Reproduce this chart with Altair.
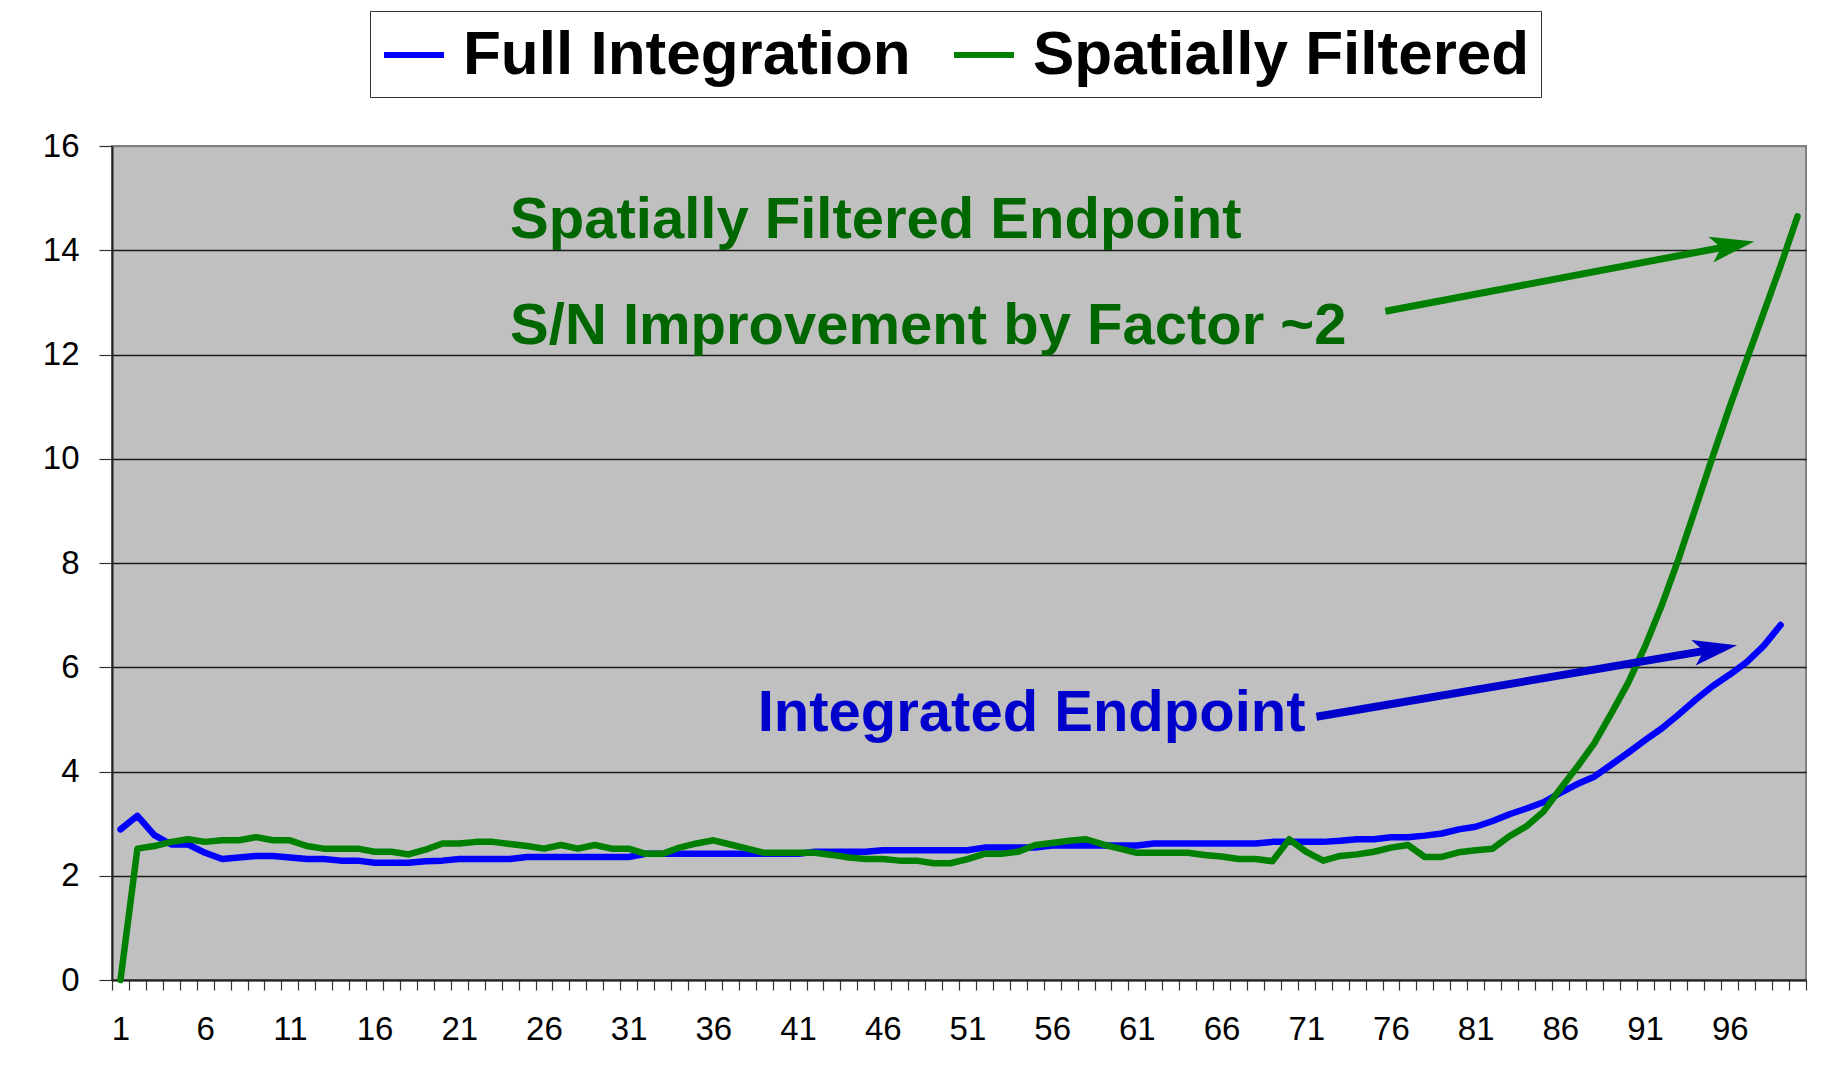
import math
import altair as alt
import pandas as pd

# ---------------- data ----------------
categories = list(range(1, 101))
x_tick_labels = [1, 6, 11, 16, 21, 26, 31, 36, 41, 46, 51, 56, 61, 66, 71, 76, 81, 86, 91, 96]
y_tick_values = [0, 2, 4, 6, 8, 10, 12, 14, 16]

series_names = ["Full Integration", "Spatially Filtered"]
series_colors = ["#0000FF", "#008000"]

full_integration = [
    2.89, 3.15, 2.78, 2.60, 2.60, 2.44, 2.32, 2.35, 2.38, 2.38,
    2.35, 2.32, 2.32, 2.29, 2.29, 2.25, 2.25, 2.25, 2.28, 2.29,
    2.32, 2.32, 2.32, 2.32, 2.36, 2.36, 2.36, 2.36, 2.36, 2.36,
    2.36, 2.42, 2.42, 2.42, 2.42, 2.42, 2.42, 2.42, 2.42, 2.42,
    2.42, 2.46, 2.46, 2.46, 2.46, 2.49, 2.49, 2.49, 2.49, 2.49,
    2.49, 2.54, 2.54, 2.54, 2.54, 2.58, 2.58, 2.58, 2.58, 2.58,
    2.58, 2.62, 2.62, 2.62, 2.62, 2.62, 2.62, 2.62, 2.65, 2.65,
    2.65, 2.65, 2.67, 2.70, 2.70, 2.74, 2.74, 2.77, 2.81, 2.89,
    2.94, 3.05, 3.18, 3.29, 3.41, 3.59, 3.76, 3.90, 4.13, 4.36,
    4.60, 4.83, 5.10, 5.38, 5.64, 5.86, 6.10, 6.41, 6.81,
]

spatially_filtered = [
    0.00, 2.52, 2.57, 2.65, 2.70, 2.65, 2.68, 2.68, 2.74, 2.68,
    2.68, 2.57, 2.52, 2.52, 2.52, 2.46, 2.46, 2.41, 2.50, 2.62,
    2.62, 2.65, 2.65, 2.61, 2.57, 2.52, 2.59, 2.52, 2.59, 2.52,
    2.52, 2.42, 2.42, 2.54, 2.62, 2.68, 2.60, 2.52, 2.44, 2.44,
    2.44, 2.44, 2.40, 2.35, 2.32, 2.32, 2.29, 2.29, 2.24, 2.24,
    2.32, 2.42, 2.42, 2.46, 2.59, 2.63, 2.67, 2.70, 2.60, 2.52,
    2.44, 2.44, 2.44, 2.44, 2.40, 2.37, 2.32, 2.32, 2.28, 2.70,
    2.46, 2.29, 2.38, 2.41, 2.46, 2.54, 2.59, 2.36, 2.36, 2.45,
    2.49, 2.52, 2.76, 2.95, 3.23, 3.67, 4.09, 4.54, 5.11, 5.70,
    6.40, 7.20, 8.10, 9.07, 10.05, 11.00, 11.90, 12.80, 13.70, 14.65,
]

# annotations (data coordinates)
green_texts = ["Spatially Filtered Endpoint", "S/N Improvement by Factor ~2"]
green_text_x = [24.0, 24.0]
green_text_y = [14.23, 12.21]
blue_texts = ["Integrated Endpoint"]
blue_text_x = [38.62]
blue_text_y = [4.77]

green_arrow = {"x": 75.67, "y": 12.83, "tip_x": 97.45, "tip_y": 14.17}
blue_arrow = {"x": 71.6, "y": 5.05, "tip_x": 96.43, "tip_y": 6.42}

# ---------------- layout ----------------
W, H = 1694, 834
X_DOMAIN = [0.5, 100.5]
Y_DOMAIN = [0, 16]
px_x = W / (X_DOMAIN[1] - X_DOMAIN[0])
px_y = H / (Y_DOMAIN[1] - Y_DOMAIN[0])

rows = []
for name, vals in zip(series_names, [full_integration, spatially_filtered]):
    for c, v in zip(categories, vals):
        rows.append({"idx": c, "value": v, "series": name})
df = pd.DataFrame(rows)

boundaries = [c - 0.5 for c in categories] + [categories[-1] + 0.5]
label_expr = (
    "indexof([" + ",".join(str(v) for v in x_tick_labels) + "], datum.value + 0.5) >= 0"
    " ? format(datum.value + 0.5, 'd') : ''"
)

x_scale = alt.Scale(domain=X_DOMAIN, nice=False, zero=False)
y_scale = alt.Scale(domain=Y_DOMAIN, nice=False, zero=False)

FONT = "Liberation Sans"

x_axis = alt.Axis(
    values=boundaries, tickCount=500, labelExpr=label_expr, labelOffset=px_x / 2,
    labelOverlap=False, labelFlush=False, labelBound=False,
    labelFont=FONT, labelFontSize=33, labelColor="#000000", labelPadding=23,
    tickSize=10, tickColor="#333333", tickWidth=1.2,
    domainColor="#222222", domainWidth=2, grid=False, title=None,
)
y_axis = alt.Axis(
    values=y_tick_values, format="d", labelFont=FONT, labelFontSize=33, labelColor="#000000",
    labelPadding=20, tickSize=13, tickColor="#333333", tickWidth=1.2,
    domainColor="#222222", domainWidth=2, grid=True,
    gridColor={"condition": {"test": "datum.value >= 16", "value": "#808080"}, "value": "#1a1a1a"},
    gridWidth=1.5, title=None,
)

lines = alt.Chart(df).mark_line(strokeWidth=6.5, strokeJoin="round", strokeCap="round").encode(
    x=alt.X("idx:Q", scale=x_scale, axis=x_axis),
    y=alt.Y("value:Q", scale=y_scale, axis=y_axis),
    color=alt.Color(
        "series:N",
        scale=alt.Scale(domain=series_names, range=series_colors),
        legend=alt.Legend(
            orient="none", legendX=258, legendY=-135, direction="horizontal",
            title=None, labelFont=FONT, labelFontWeight="bold", labelFontSize=62,
            labelColor="#000000", symbolType="stroke", symbolSize=3600,
            symbolStrokeWidth=6, labelOffset=16, columnPadding=31, padding=11,
            fillColor="#FFFFFF", strokeColor="#333333", labelLimit=2000,
        ),
    ),
)

# text annotations
gt = pd.DataFrame({"idx": green_text_x, "value": green_text_y, "label": green_texts})
bt = pd.DataFrame({"idx": blue_text_x, "value": blue_text_y, "label": blue_texts})
text_kw = dict(align="left", baseline="alphabetic", font=FONT, fontWeight="bold", fontSize=58)
green_text_layer = alt.Chart(gt).mark_text(color="#006600", **text_kw).encode(
    x=alt.X("idx:Q", scale=x_scale), y=alt.Y("value:Q", scale=y_scale), text="label:N")
blue_text_layer = alt.Chart(bt).mark_text(color="#0000CC", **text_kw).encode(
    x=alt.X("idx:Q", scale=x_scale), y=alt.Y("value:Q", scale=y_scale), text="label:N")

# arrows
HEAD_PATH = "M0,0 L0.5,1.7 L0,1.3 L-0.5,1.7 Z"
HEAD_UNIT = 26  # px per path unit


def arrow_layers(a, color, width):
    dx = (a["tip_x"] - a["x"]) * px_x
    dy = -(a["tip_y"] - a["y"]) * px_y
    length = math.hypot(dx, dy)
    ux, uy = dx / length, dy / length
    back = 30
    end_x = a["tip_x"] - ux * back / px_x
    end_y = a["tip_y"] + uy * back / px_y
    angle = math.degrees(math.atan2(dy, dx)) + 90
    seg = pd.DataFrame({"idx": [a["x"]], "value": [a["y"]], "idx2": [end_x], "value2": [end_y]})
    head = pd.DataFrame({"idx": [a["tip_x"]], "value": [a["tip_y"]], "angle": [angle]})
    rule = alt.Chart(seg).mark_rule(color=color, strokeWidth=width).encode(
        x=alt.X("idx:Q", scale=x_scale), y=alt.Y("value:Q", scale=y_scale),
        x2="idx2:Q", y2="value2:Q")
    pt = alt.Chart(head).mark_point(
        shape=HEAD_PATH, filled=True, color=color, opacity=1,
        size=(2 * HEAD_UNIT) ** 2, strokeWidth=0,
    ).encode(
        x=alt.X("idx:Q", scale=x_scale), y=alt.Y("value:Q", scale=y_scale),
        angle=alt.Angle("angle:Q", scale=None))
    return [rule, pt]


layers = [lines] + arrow_layers(green_arrow, "#008000", 7) + arrow_layers(blue_arrow, "#0000CC", 8) + [
    green_text_layer, blue_text_layer]

chart = alt.layer(*layers).properties(
    width=W, height=H,
    padding={"left": 104, "top": 138, "right": 10, "bottom": 85},
    autosize=alt.AutoSizeParams(type="none"),
    background="#FFFFFF",
).configure_view(fill="#C0C0C0", stroke="#808080", strokeWidth=2)

chart.save("out.html", embed_options={"renderer": "svg", "actions": False})
